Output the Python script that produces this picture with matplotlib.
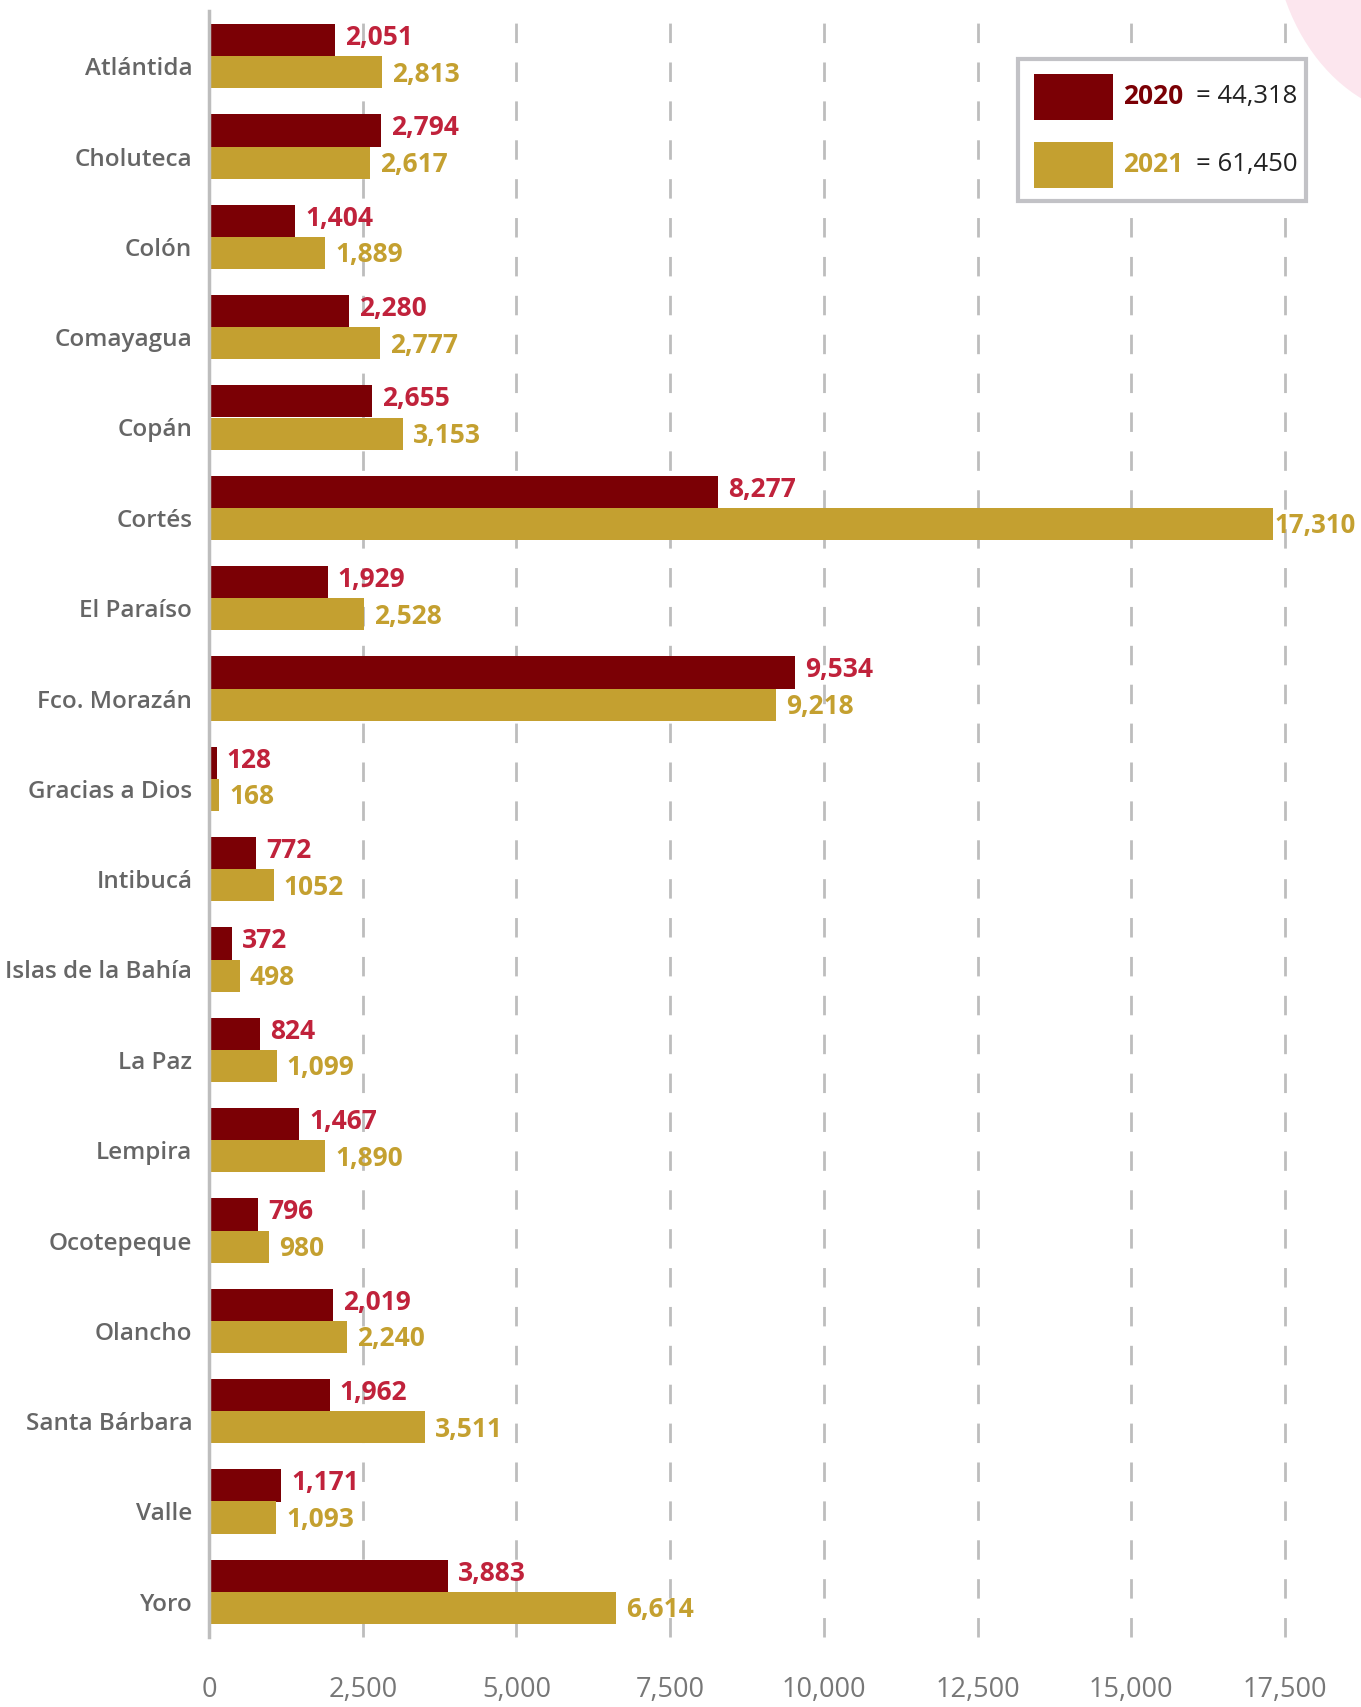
import matplotlib
matplotlib.use('Agg')
import matplotlib.pyplot as plt
import matplotlib.transforms as mtransforms
import numpy as np
from matplotlib.patches import Rectangle, Circle

plt.rcParams['font.family'] = ['Open Sans', 'DejaVu Sans']

# Datos por departamento
departamentos = ['Atlántida', 'Choluteca', 'Colón', 'Comayagua', 'Copán', 'Cortés',
                 'El Paraíso', 'Fco. Morazán', 'Gracias a Dios', 'Intibucá',
                 'Islas de la Bahía', 'La Paz', 'Lempira', 'Ocotepeque', 'Olancho',
                 'Santa Bárbara', 'Valle', 'Yoro']
valores_2020 = [2051, 2794, 1404, 2280, 2655, 8277, 1929, 9534, 128, 772,
                372, 824, 1467, 796, 2019, 1962, 1171, 3883]
valores_2021 = [2813, 2617, 1889, 2777, 3153, 17310, 2528, 9218, 168, 1052,
                498, 1099, 1890, 980, 2240, 3511, 1093, 6614]
etiquetas_2021 = ['{:,}'.format(v) for v in valores_2021]
etiquetas_2021[9] = '1052'  # así aparece en el original
etiquetas_2020 = ['{:,}'.format(v) for v in valores_2020]
ticks_x = [0, 2500, 5000, 7500, 10000, 12500, 15000, 17500]

rojo = '#7B0005'
rojo_txt = '#C0223B'
oro = '#C4A030'
gris = '#BDBDBD'

W, H = 1361, 1707
fig = plt.figure(figsize=(W / 100, H / 100), dpi=100)
ax = fig.add_axes([209 / W, 1 - 1637 / H, (1285 - 209) / W, (1637 - 11) / H])

y = np.arange(len(departamentos))
h = 0.355
ax.barh(y - h / 2, valores_2020, height=h, color=rojo, zorder=3)
ax.barh(y + h / 2, valores_2021, height=h, color=oro, zorder=3)

for i in range(len(departamentos)):
    ax.annotate(etiquetas_2020[i], (valores_2020[i], y[i] - h / 2 - 0.03),
                xytext=(10, 0), textcoords='offset pixels', va='center', ha='left',
                color=rojo_txt, fontsize=19, fontweight='bold', clip_on=False)
    # la barra más larga lleva la etiqueta pegada, como en el original
    off = 1 if valores_2021[i] > 17000 else 10
    ax.annotate(etiquetas_2021[i], (valores_2021[i], y[i] + h / 2 + 0.02),
                xytext=(off, 0), textcoords='offset pixels', va='center', ha='left',
                color=oro, fontsize=18.5 if off == 1 else 19, fontweight='bold',
                clip_on=False)

ax.set_xlim(0, 17500)
ax.set_ylim(len(departamentos) - 0.5, -0.5)
ax.set_yticks(y)
ax.set_yticklabels(departamentos, fontsize=17.5, color='#666666', fontweight='semibold')
ax.set_xticks(ticks_x)
ax.set_xticklabels(['{:,}'.format(t) for t in ticks_x], fontsize=19.5, color='#777777')
ax.tick_params(axis='both', length=0)
ax.tick_params(axis='y', pad=12)
ax.tick_params(axis='x', pad=28)

# bajar un poco las etiquetas de categorías
bajar = mtransforms.ScaledTranslation(0, -10 / 100, fig.dpi_scale_trans)
for lbl in ax.get_yticklabels():
    lbl.set_transform(lbl.get_transform() + bajar)

for s in ['top', 'right', 'bottom']:
    ax.spines[s].set_visible(False)
ax.spines['left'].set_color(gris)
ax.spines['left'].set_linewidth(2.5)
ax.spines['left'].set_zorder(4)

for t in ticks_x[1:]:
    ax.axvline(t, color=gris, linewidth=2, linestyle=(0, (7, 7)), zorder=1, clip_on=False)

# Decoración rosa en la esquina
fig.patches.append(Circle((1430 / W, 1 + 80 / H), 158 / W, transform=fig.transFigure,
                          facecolor='#FCE6EE', edgecolor='none', zorder=0))

# Leyenda manual
def fx(px):
    return px / W

def fy(px):
    return 1 - px / H

fig.patches.append(Rectangle((fx(1018), fy(201)), (1306 - 1018) / W, (201 - 59) / H,
                             transform=fig.transFigure, facecolor='white',
                             edgecolor='#C2C2C6', linewidth=3, zorder=5))
fig.patches.append(Rectangle((fx(1034), fy(120)), 79 / W, 46 / H, transform=fig.transFigure,
                             facecolor=rojo, edgecolor='none', zorder=6))
fig.patches.append(Rectangle((fx(1034), fy(188)), 79 / W, 46 / H, transform=fig.transFigure,
                             facecolor=oro, edgecolor='none', zorder=6))
fig.text(fx(1123), fy(97), '2020', color=rojo, fontsize=19, fontweight='bold',
         va='center', ha='left', zorder=7)
fig.text(fx(1196), fy(97), '= {:,}'.format(sum(valores_2020)), color='#222222', fontsize=18.5,
         va='center', ha='left', zorder=7)
fig.text(fx(1123), fy(165), '2021', color=oro, fontsize=19, fontweight='bold',
         va='center', ha='left', zorder=7)
fig.text(fx(1196), fy(165), '= {:,}'.format(sum(valores_2021)), color='#222222', fontsize=18.5,
         va='center', ha='left', zorder=7)

fig.savefig('out.png', dpi=100)
